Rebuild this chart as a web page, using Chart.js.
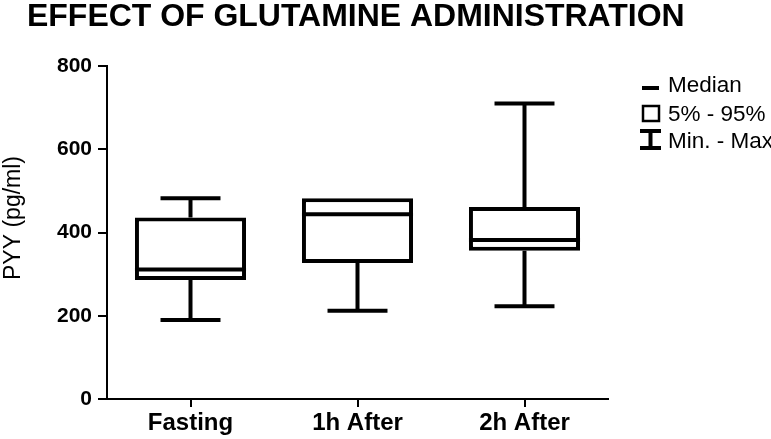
<!DOCTYPE html>
<html>
<head>
<meta charset="utf-8">
<script src="https://cdn.jsdelivr.net/npm/chart.js@4.4.1/dist/chart.umd.min.js"></script>
<style>
  html, body { margin: 0; padding: 0; background: #fff; }
  #wrap { width: 771px; height: 439px; position: relative; }
</style>
</head>
<body>
<div id="wrap"><canvas id="c"></canvas></div>
<script>
// data
const categories = ['Fasting', '1h After', '2h After'];
const minVals    = [190, 212, 223];
const q1Vals     = [286, 327, 356];
const medianVals = [311, 444, 382];
const q3Vals     = [436, 482, 461];
const maxVals    = [482, 482, 710];
const yTicks     = [0, 200, 400, 600, 800];
const titleText  = 'EFFECT OF GLUTAMINE ADMINISTRATION';
const yTitle     = 'PYY (pg/ml)';
const legendText = ['Median', '5% - 95%', 'Min. - Max'];

const INK = '#000';
const SANS = '"Liberation Sans", Arial, sans-serif';

// whiskers, caps and medians, placed with the chart's own scales
const boxExtras = {
  id: 'boxExtras',
  afterDatasetsDraw(chart) {
    const { ctx } = chart;
    const y = chart.scales.y;
    const bars = chart.getDatasetMeta(0).data;
    ctx.save();
    ctx.strokeStyle = INK;
    ctx.lineWidth = 4;
    ctx.lineCap = 'butt';
    bars.forEach((bar, i) => {
      const half = bar.width / 2;
      const cap = bar.width * 0.27;
      const yMin = y.getPixelForValue(minVals[i]);
      const yQ1 = y.getPixelForValue(q1Vals[i]);
      const yQ3 = y.getPixelForValue(q3Vals[i]);
      const yMax = y.getPixelForValue(maxVals[i]);
      const yMed = y.getPixelForValue(medianVals[i]);
      ctx.beginPath();
      // whiskers
      ctx.moveTo(bar.x, yQ1); ctx.lineTo(bar.x, yMin);
      if (maxVals[i] > q3Vals[i]) { ctx.moveTo(bar.x, yQ3); ctx.lineTo(bar.x, yMax); }
      // caps
      ctx.moveTo(bar.x - cap, yMin); ctx.lineTo(bar.x + cap, yMin);
      if (maxVals[i] > q3Vals[i]) { ctx.moveTo(bar.x - cap, yMax); ctx.lineTo(bar.x + cap, yMax); }
      // median
      ctx.moveTo(bar.x - half, yMed); ctx.lineTo(bar.x + half, yMed);
      ctx.stroke();
    });
    ctx.restore();
  }
};

// title, y title and the little key on the right
const decor = {
  id: 'decor',
  afterDraw(chart) {
    const { ctx } = chart;
    ctx.save();
    ctx.fillStyle = INK;
    ctx.font = 'bold 30px ' + SANS;
    const w30 = ctx.measureText(titleText).width;
    ctx.font = 'bold ' + (30 * 658 / w30).toFixed(2) + 'px ' + SANS;
    ctx.textBaseline = 'alphabetic';
    ctx.fillText(titleText, 27, 26);

    // y axis title
    ctx.save();
    ctx.translate(14, 218);
    ctx.rotate(-Math.PI / 2);
    ctx.font = '23px ' + SANS;
    ctx.textAlign = 'center';
    ctx.textBaseline = 'middle';
    ctx.fillText(yTitle, 0, 0);
    ctx.restore();

    ctx.font = '22.5px ' + SANS;
    ctx.textBaseline = 'alphabetic';
    ctx.fillText(legendText[0], 668, 92);
    ctx.fillText(legendText[1], 668, 121);
    ctx.fillText(legendText[2], 668, 148);

    ctx.strokeStyle = INK;
    ctx.lineWidth = 4;
    ctx.beginPath();
    ctx.moveTo(642, 88); ctx.lineTo(659, 88);
    ctx.stroke();
    ctx.lineWidth = 2.5;
    ctx.strokeRect(643, 106, 16, 15);
    ctx.lineWidth = 4;
    ctx.beginPath();
    ctx.moveTo(640, 131); ctx.lineTo(661, 131);
    ctx.moveTo(640, 148); ctx.lineTo(661, 148);
    ctx.moveTo(650.5, 131); ctx.lineTo(650.5, 148);
    ctx.stroke();
    ctx.restore();
  }
};

new Chart(document.getElementById('c'), {
  type: 'bar',
  data: {
    labels: categories,
    datasets: [{
      data: q1Vals.map((v, i) => [v, q3Vals[i]]),
      backgroundColor: '#fff',
      borderColor: INK,
      borderWidth: 4,
      borderSkipped: false,
      categoryPercentage: 1,
      barPercentage: 0.665
    }]
  },
  options: {
    responsive: true,
    maintainAspectRatio: false,
    animation: false,
    layout: { padding: { top: 66, right: 163, left: 0, bottom: 0 } },
    plugins: {
      legend: { display: false },
      tooltip: { enabled: false }
    },
    scales: {
      x: {
        afterFit: s => { s.height = 40; },
        grid: { offset: false, drawOnChartArea: false, drawTicks: true, tickLength: 8, color: INK, lineWidth: 2 },
        border: { color: INK, width: 2 },
        ticks: { color: INK, padding: 2, font: { family: SANS, size: 24, weight: 'bold' } }
      },
      y: {
        min: 0,
        max: 800,
        afterFit: s => { s.width = 107; },
        afterBuildTicks: s => { s.ticks = yTicks.map(v => ({ value: v })); },
        grid: { drawOnChartArea: false, drawTicks: true, tickLength: 9, color: INK, lineWidth: 2 },
        border: { color: INK, width: 2 },
        ticks: { color: INK, padding: 6, font: { family: SANS, size: 21, weight: 'bold' } }
      }
    }
  },
  plugins: [boxExtras, decor]
});
</script>
</body>
</html>
